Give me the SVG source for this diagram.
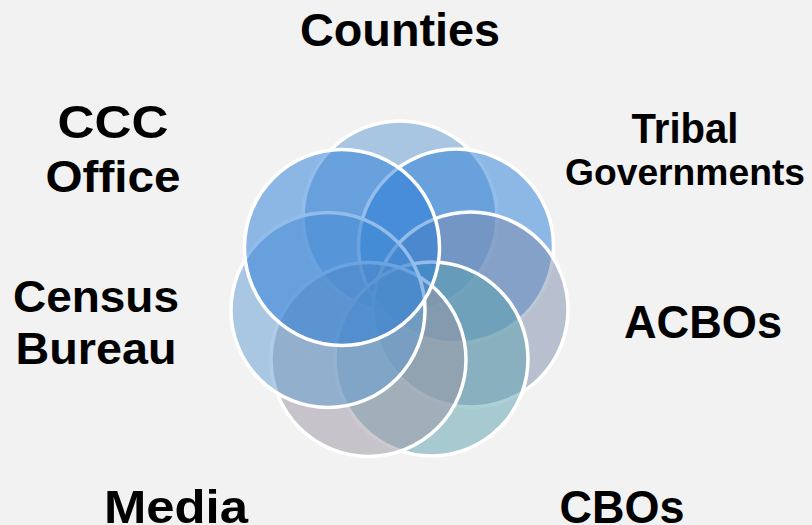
<svg xmlns="http://www.w3.org/2000/svg" width="812" height="525" viewBox="0 0 812 525">
<style>
.bg{fill:#f2f2f2}
.c{stroke:#ffffff;stroke-width:3.5;fill-opacity:0.5}
.t{font-family:"Liberation Sans",Arial,sans-serif;font-weight:bold;fill:#000000;text-anchor:middle}
</style>
<rect class="bg" x="0" y="0" width="812" height="525"/>
<g id="venn">
<g id="counties"><ellipse class="c" cx="400" cy="217" rx="97" ry="96" fill="#5e9ad2"/></g>
<g id="tribal"><ellipse class="c" cx="456" cy="246" rx="97.5" ry="97" fill="#287cd6"/></g>
<g id="acbos"><ellipse class="c" cx="470.5" cy="309.5" rx="97.5" ry="97.5" fill="#7e8cac"/></g>
<g id="cbos"><ellipse class="c" cx="431.5" cy="359" rx="96.5" ry="97" fill="#5aa2ae"/></g>
<g id="media"><ellipse class="c" cx="368.5" cy="359.5" rx="97.5" ry="97" fill="#9a94a4"/></g>
<g id="census"><ellipse class="c" cx="328" cy="310" rx="97" ry="97.5" fill="#609cd2"/></g>
<g id="ccc"><ellipse class="c" cx="342" cy="247.5" rx="97.5" ry="98" fill="#267ad6"/></g>
</g>
<g id="labels">
<text class="t" x="400" y="46" font-size="46" textLength="200" lengthAdjust="spacingAndGlyphs">Counties</text>
<text class="t" x="113" y="138" font-size="46" textLength="111" lengthAdjust="spacingAndGlyphs">CCC</text>
<text class="t" x="113" y="192" font-size="45" textLength="135" lengthAdjust="spacingAndGlyphs">Office</text>
<text class="t" x="685" y="143" font-size="43" textLength="107" lengthAdjust="spacingAndGlyphs">Tribal</text>
<text class="t" x="685" y="185" font-size="36" textLength="240" lengthAdjust="spacingAndGlyphs">Governments</text>
<text class="t" x="96" y="312" font-size="45" textLength="166" lengthAdjust="spacingAndGlyphs">Census</text>
<text class="t" x="96" y="364" font-size="45" textLength="161" lengthAdjust="spacingAndGlyphs">Bureau</text>
<text class="t" x="703" y="338" font-size="46" textLength="158" lengthAdjust="spacingAndGlyphs">ACBOs</text>
<text class="t" x="176" y="523" font-size="46" textLength="144" lengthAdjust="spacingAndGlyphs">Media</text>
<text class="t" x="622" y="523" font-size="46" textLength="125" lengthAdjust="spacingAndGlyphs">CBOs</text>
</g>
</svg>
